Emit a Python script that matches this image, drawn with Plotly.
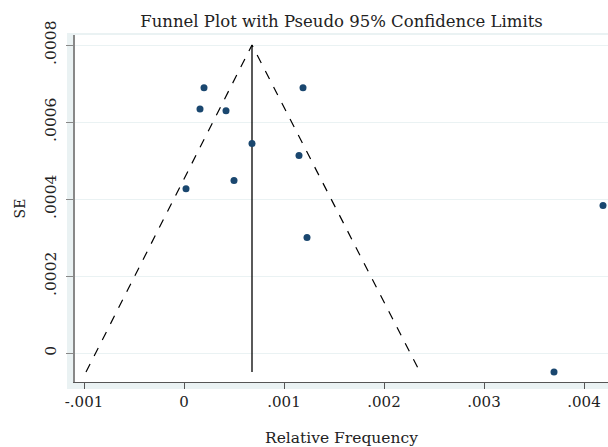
import plotly.graph_objects as go

# Study points (relative frequency, SE)
freq = [0.00020, 0.00016, 0.00042, 0.00068, 0.00050, 0.00002, 0.00119, 0.00115, 0.00123, 0.00419, 0.00370]
se = [0.000689, 0.000634, 0.000629, 0.000544, 0.000448, 0.000427, 0.000689, 0.000513, 0.000300, 0.000383, -0.0000492]

# Pseudo 95% confidence limits (funnel) and pooled estimate line
funnel_x = [-0.00098, 0.00068, 0.00236]
funnel_y = [-0.0000492, 0.00080, -0.0000492]
pooled_x = [0.00068, 0.00068]
pooled_y = [0.00080, -0.0000492]

x_ticks = [-0.001, 0, 0.001, 0.002, 0.003, 0.004]
x_labels = ["-.001", "0", ".001", ".002", ".003", ".004"]
y_ticks = [0, 0.0002, 0.0004, 0.0006, 0.0008]
y_labels = ["0", ".0002", ".0004", ".0006", ".0008"]

FONT = "DejaVu Serif"
BAND = "#eaf2f3"
TXT = "#222222"

fig = go.Figure()
fig.add_trace(go.Scatter(x=funnel_x, y=funnel_y, mode="lines",
                         line=dict(color="black", width=1.2, dash="dash"),
                         hoverinfo="skip", showlegend=False))
fig.add_trace(go.Scatter(x=pooled_x, y=pooled_y, mode="lines",
                         line=dict(color="black", width=1.3),
                         hoverinfo="skip", showlegend=False))
fig.add_trace(go.Scatter(x=freq, y=se, mode="markers",
                         marker=dict(color="#1a476f", size=7),
                         showlegend=False))

W, H = 608, 447
L, R, T, B = 75, 0, 35, 65
pw, ph = W - L - R, H - T - B

def px2paper_x(px):
    return (px - L) / pw

def py2paper_y(py):
    return (H - B - py) / ph

shapes = [
    dict(type="rect", xref="paper", yref="paper",
         x0=px2paper_x(67), x1=0, y0=py2paper_y(389), y1=py2paper_y(33),
         fillcolor=BAND, line=dict(width=0), layer="below"),
    dict(type="rect", xref="paper", yref="paper",
         x0=px2paper_x(67), x1=1, y0=py2paper_y(389), y1=0,
         fillcolor=BAND, line=dict(width=0), layer="below"),
    dict(type="rect", xref="paper", yref="paper",
         x0=px2paper_x(67), x1=1, y0=1, y1=py2paper_y(33),
         fillcolor=BAND, line=dict(width=0), layer="below"),
]

fig.update_layout(
    width=W, height=H,
    margin=dict(l=L, r=R, t=T, b=B, autoexpand=False),
    paper_bgcolor="white", plot_bgcolor="white",
    font=dict(family=FONT, color=TXT),
    shapes=shapes,
    title=dict(text="Funnel Plot with Pseudo 95% Confidence Limits",
               x=(L + pw / 2) / W, xanchor="center", y=1 - 21 / H, yanchor="middle",
               font=dict(family=FONT, size=16.5, color=TXT)),
    xaxis=dict(range=[-0.00109, 0.00424], tickvals=x_ticks, ticktext=x_labels,
               automargin=False,
               showgrid=False, zeroline=False, showline=True, linecolor="#555555", linewidth=1.2,
               ticks="outside", ticklen=6, tickcolor="#555555",
               tickfont=dict(family=FONT, size=15, color=TXT),
               title=dict(text="Relative Frequency", standoff=22,
                          font=dict(family=FONT, size=15.5, color=TXT))),
    yaxis=dict(range=[-0.0000751, 0.000826], tickvals=y_ticks, ticktext=y_labels,
               automargin=False,
               showgrid=True, gridcolor=BAND, gridwidth=1, zeroline=False,
               showline=True, linecolor="#888888", linewidth=1.5,
               ticks="outside", ticklen=7, tickcolor="#888888", tickangle=-90,
               ticklabelstandoff=4,
               tickfont=dict(family=FONT, size=15.5, color=TXT),
               title=dict(text="SE", standoff=13,
                          font=dict(family=FONT, size=14, color=TXT))),
)

fig.write_html("out.html", config={"displayModeBar": False},
               post_script="document.body.style.margin='0';")
